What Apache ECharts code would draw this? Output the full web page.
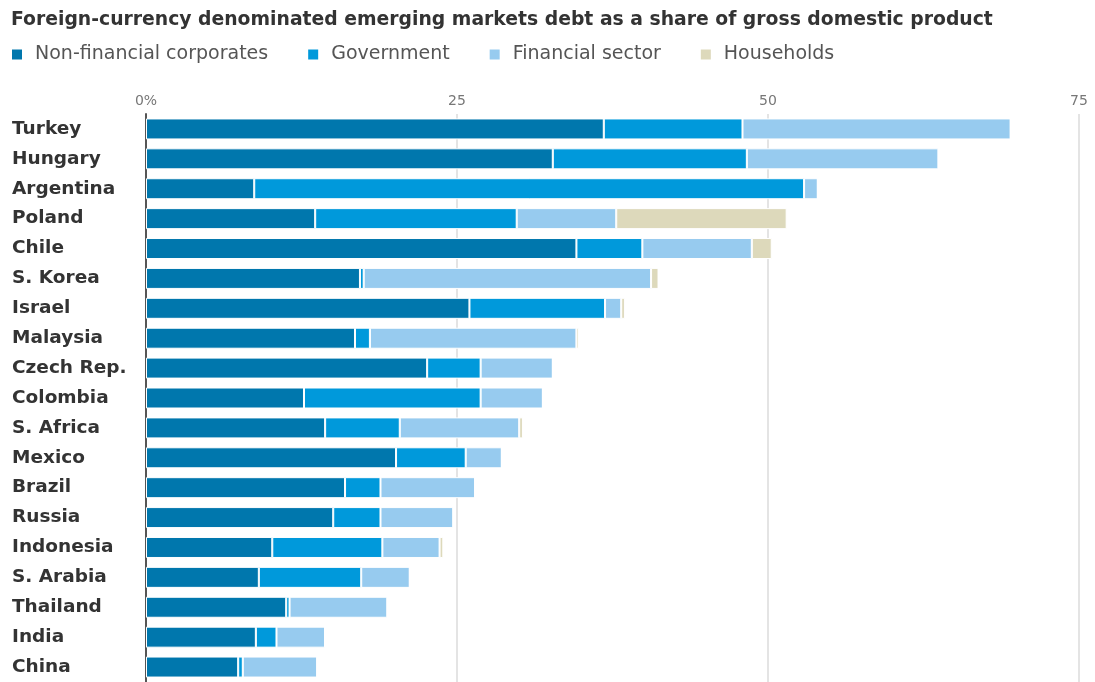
<!DOCTYPE html>
<html lang="en" style="height: 100%">
<head>
  <meta charset="utf-8">
  <script type="text/javascript" src="https://cdn.jsdelivr.net/npm/echarts@6/dist/echarts.min.js"></script>
</head>
<body style="height: 100%; margin: 0; background: #fff">
  <div id="container" style="width: 1095px; height: 682px"></div>
  <script type="text/javascript">
    var countries = ['Turkey', 'Hungary', 'Argentina', 'Poland', 'Chile', 'S. Korea', 'Israel', 'Malaysia',
      'Czech Rep.', 'Colombia', 'S. Africa', 'Mexico', 'Brazil', 'Russia', 'Indonesia', 'S. Arabia',
      'Thailand', 'India', 'China'];
    var nonFinancial = [36.8, 32.7, 8.7, 13.6, 34.6, 17.2, 26.0, 16.8, 22.6, 12.7, 14.4, 20.1, 16.0, 15.05, 10.15, 9.07, 11.27, 8.83, 7.41];
    var government = [11.15, 15.6, 44.2, 16.2, 5.3, 0.3, 10.9, 1.2, 4.3, 14.2, 6.0, 5.6, 2.85, 3.8, 8.85, 8.23, 0.27, 1.66, 0.37];
    var financial = [21.55, 15.4, 1.1, 8.0, 8.8, 23.1, 1.3, 16.6, 5.8, 5.0, 9.6, 2.9, 7.6, 5.85, 4.6, 3.9, 7.86, 3.9, 5.98];
    var households = [0, 0, 0, 13.7, 1.6, 0.6, 0.3, 0.2, 0, 0, 0.3, 0, 0, 0, 0.3, 0, 0, 0, 0];
    var xTicks = [0, 25, 50, 75];

    var seriesNames = ['Non-financial corporates', 'Government', 'Financial sector', 'Households'];
    var seriesData = [nonFinancial, government, financial, households];
    var seriesColors = ['#0077ad', '#0099db', '#97cbef', '#ddd9bb'];

    var dom = document.getElementById('container');
    var myChart = echarts.init(dom, null, { renderer: 'canvas' });

    var option = {
      animation: false,
      title: {
        text: 'Foreign-currency denominated emerging markets debt as a share of gross domestic product',
        left: 6,
        top: 6,
        textStyle: {
          fontFamily: 'DejaVu Sans',
          fontWeight: 'bold',
          fontSize: 18.8,
          color: '#333'
        }
      },
      legend: {
        left: 5,
        top: 40,
        icon: 'rect',
        itemWidth: 12,
        itemHeight: 12,
        itemGap: 38,
        textStyle: {
          fontFamily: 'DejaVu Sans',
          fontSize: 19,
          color: '#555',
          padding: [0, 0, 0, 7]
        },
        data: seriesNames
      },
      grid: {
        left: 146,
        top: 114,
        width: 933,
        height: 570
      },
      xAxis: {
        type: 'value',
        position: 'top',
        min: 0,
        max: 75,
        interval: 25,
        axisLine: { show: false },
        axisTick: { show: false },
        axisLabel: {
          margin: 6,
          fontFamily: 'DejaVu Sans',
          fontSize: 14,
          color: '#777',
          formatter: function (v) {
            return xTicks.indexOf(v) === 0 ? v + '%' : String(v);
          }
        },
        splitLine: { lineStyle: { color: '#e4e4e4', width: 2 } }
      },
      yAxis: {
        type: 'category',
        inverse: true,
        data: countries,
        axisTick: { show: false },
        axisLine: { lineStyle: { color: '#555', width: 2 } },
        axisLabel: {
          align: 'left',
          margin: 134,
          fontFamily: 'DejaVu Sans',
          fontWeight: 'bold',
          fontSize: 18.5,
          color: '#333',
          padding: [6, 0, 0, 0]
        }
      },
      series: seriesNames.map(function (name, i) {
        return {
          name: name,
          type: 'bar',
          stack: 'debt',
          barWidth: 21,
          data: seriesData[i],
          itemStyle: {
            color: seriesColors[i],
            borderColor: '#fff',
            borderWidth: 1
          }
        };
      })
    };

    myChart.setOption(option);
  </script>
</body>
</html>
